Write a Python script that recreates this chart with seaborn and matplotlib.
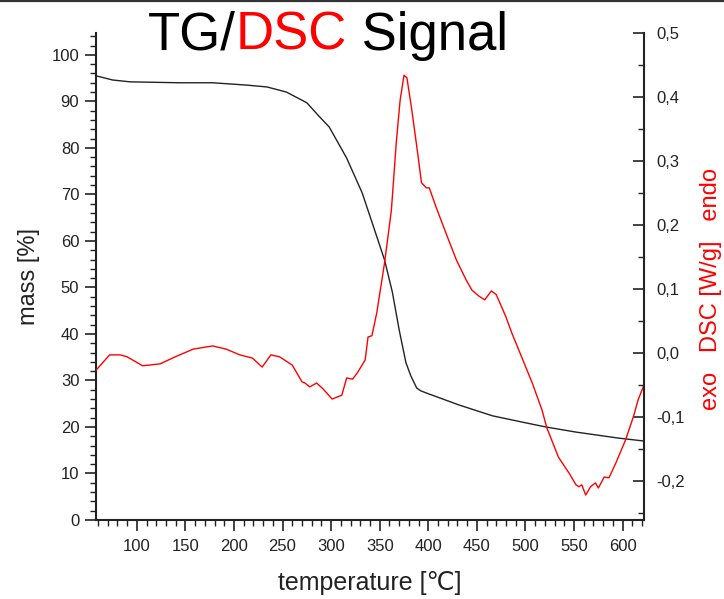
import matplotlib
matplotlib.use("Agg")
import matplotlib.pyplot as plt
from matplotlib.ticker import MultipleLocator, FuncFormatter
from matplotlib.lines import Line2D
import seaborn as sns
import pandas as pd

# ---- data ----
temp_tg = [58, 75, 93, 144, 178, 213, 234, 254, 275, 288, 298, 316, 332, 344, 355,
           363, 370, 377, 382, 388, 392, 398, 432, 466, 500, 521, 552, 596, 621]
mass_tg = [95.5, 94.6, 94.2, 94.0, 94.0, 93.5, 93.1, 92.0, 89.7, 86.7, 84.5, 77.8, 70.3,
           62.8, 55.9, 49.0, 40.9, 33.8, 31.0, 28.4, 27.8, 27.3, 24.7, 22.4, 20.9, 20.0,
           18.9, 17.6, 17.0]

temp_dsc = [58, 72, 83, 90, 106, 124, 141, 158, 178, 192, 206, 219, 229, 238, 247, 260,
            270, 273, 278, 285, 291, 301, 311, 316, 322, 327, 335, 338, 342, 347, 355,
            362, 367, 371, 375, 378, 383, 389, 393, 398, 401, 408, 418, 429, 439, 445,
            452, 458, 465, 470, 476, 480, 486, 496, 507, 517, 522, 534, 545, 552, 555,
            558, 562, 567, 572, 575, 581, 586, 593, 603, 611, 616, 622]
dsc = [-0.027, -0.003, -0.003, -0.006, -0.020, -0.017, -0.005, 0.006, 0.011, 0.006,
       -0.003, -0.008, -0.022, -0.003, -0.006, -0.019, -0.045, -0.047, -0.053, -0.047,
       -0.055, -0.072, -0.066, -0.039, -0.041, -0.031, -0.011, 0.025, 0.027, 0.063,
       0.141, 0.223, 0.328, 0.395, 0.434, 0.430, 0.380, 0.313, 0.266, 0.258, 0.258,
       0.228, 0.188, 0.145, 0.114, 0.098, 0.089, 0.083, 0.097, 0.091, 0.070, 0.056,
       0.031, -0.006, -0.047, -0.089, -0.117, -0.163, -0.188, -0.206, -0.209, -0.206,
       -0.222, -0.209, -0.203, -0.211, -0.194, -0.195, -0.172, -0.136, -0.100, -0.073,
       -0.050]

x_ticks = [100, 150, 200, 250, 300, 350, 400, 450, 500, 550, 600]
mass_ticks = [0, 10, 20, 30, 40, 50, 60, 70, 80, 90, 100]
dsc_ticks = [-0.2, -0.1, 0.0, 0.1, 0.2, 0.3, 0.4, 0.5]

tg_df = pd.DataFrame({"temperature": temp_tg, "mass": mass_tg})
dsc_df = pd.DataFrame({"temperature": temp_dsc, "dsc": dsc})

sns.set_style("ticks")
FONT = ["Liberation Sans", "DejaVu Sans"]
plt.rcParams["font.family"] = FONT

W, H = 724, 599
fig = plt.figure(figsize=(W / 100, H / 100), dpi=100)
ax = fig.add_axes([96 / W, 79 / H, (644 - 96) / W, (520 - 33) / H])

sns.lineplot(data=tg_df, x="temperature", y="mass", ax=ax, color="#222222", lw=1.0)
ax.set_xlim(58, 622)
ax.set_ylim(0, 104.7)
ax.set_xticks(x_ticks)
ax.set_yticks(mass_ticks)
ax.xaxis.set_minor_locator(MultipleLocator(10))
ax.yaxis.set_minor_locator(MultipleLocator(2))
ax.tick_params(which="major", direction="out", length=8, width=1.2, labelsize=12,
               colors="#222222", pad=4)
ax.tick_params(axis="x", which="major", pad=6)
ax.tick_params(which="minor", direction="out", length=4, width=1.0, colors="#222222")
ax.spines["top"].set_visible(False)
ax.spines["right"].set_visible(False)
for s in ["left", "bottom"]:
    ax.spines[s].set_linewidth(1.5)
    ax.spines[s].set_color("#222222")
ax.set_xlabel("temperature [℃]", fontsize=18, labelpad=12, color="#222222")
ax.set_ylabel("mass [%]", fontsize=17, labelpad=8, color="#222222")

ax2 = ax.twinx()
sns.lineplot(data=dsc_df, x="temperature", y="dsc", ax=ax2, color="#ff0000", lw=1.0)
ax2.set_ylim(-0.261, 0.5)
ax2.set_yticks(dsc_ticks)
ax2.yaxis.set_minor_locator(MultipleLocator(0.05))
ax2.yaxis.set_major_formatter(FuncFormatter(lambda v, p: f"{v:.1f}".replace(".", ",").replace("-0,0", "0,0")))
ax2.tick_params(which="major", direction="in", length=8, width=1.2, labelsize=12,
                colors="#222222", pad=9)
ax2.tick_params(which="minor", direction="in", length=4, width=1.0, colors="#222222")
for s in ["top", "left", "bottom"]:
    ax2.spines[s].set_visible(False)
ax2.spines["right"].set_linewidth(1.5)
ax2.spines["right"].set_color("#222222")
ax2.set_ylabel("")
ax2.set_xlabel("")

fig.text(711 / W, 1 - 289 / H, "exo   DSC [W/g]   endo", rotation=90, ha="center",
         va="center", fontsize=17, color="#ff0000")

# multi-coloured title
fig.canvas.draw()
rend = fig.canvas.get_renderer()
x0 = 148 / W
yb = 1 - 50 / H
for part, col in [("TG/", "black"), ("DSC", "#ff0000"), (" Signal", "black")]:
    t = fig.text(x0, yb, part, fontsize=38, color=col, ha="left", va="baseline")
    bb = t.get_window_extent(rend)
    x0 = bb.x1 / W

fig.add_artist(Line2D([0, 1], [1 - 1 / H, 1 - 1 / H], color="#333333", lw=1.6,
                      transform=fig.transFigure))

fig.savefig("out.png", dpi=100)
